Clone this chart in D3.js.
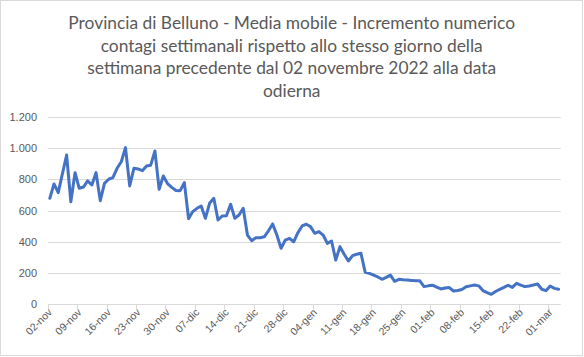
<!DOCTYPE html>
<html><head><meta charset="utf-8">
<script src="https://cdn.jsdelivr.net/npm/d3@7"></script>
<style>html,body{margin:0;padding:0;background:#fff}svg{display:block}</style>
</head><body>
<script>
const titleLines = [
  "Provincia di Belluno - Media mobile - Incremento numerico",
  "contagi settimanali rispetto allo stesso giorno della",
  "settimana precedente dal 02 novembre 2022 alla data",
  "odierna"
];
const startDate = new Date(2022, 10, 2);
const endDate = new Date(2023, 2, 4);
const tickLabels = ["02-nov","09-nov","16-nov","23-nov","30-nov","07-dic","14-dic","21-dic","28-dic","04-gen","11-gen","18-gen","25-gen","01-feb","08-feb","15-feb","22-feb","01-mar"];
const yTicks = [0,200,400,600,800,1000,1200];
const values = [
 678,770,714,835,955,656,842,742,750,789,
 763,842,663,774,800,810,870,912,1002,757,
 870,866,855,885,890,981,736,821,772,748,
 728,727,778,548,593,614,629,550,646,678,
 539,565,567,640,550,571,614,443,407,426,
 426,432,470,514,443,358,411,422,400,458,
 501,512,497,454,465,443,390,405,283,369,
 320,277,311,320,326,205,198,187,175,160,
 172,187,147,160,157,155,153,150,150,113,
 118,122,110,98,104,107,85,88,95,112,
 118,123,118,88,75,64,82,95,108,122,
 108,134,123,113,117,123,130,96,87,117,
 102,96
];

const W = 584, H = 357;
const svg = d3.select("body").append("svg").attr("width", W).attr("height", H);
svg.append("rect").attr("x",0.5).attr("y",0.5).attr("width",W-2).attr("height",H-2)
  .attr("fill","#fff").attr("stroke","#d9d9d9");

const days = d3.timeDay.range(startDate, endDate);
const fmtDay = d => d3.timeFormat("%d")(d) + "-" + ["gen","feb","mar","apr","mag","giu","lug","ago","set","ott","nov","dic"][d.getMonth()];
const cats = days.map(fmtDay);

const x = d3.scaleBand().domain(cats).range([47.7, 560.7]).padding(0);
const y = d3.scaleLinear().domain([0,1200]).range([304.3, 116.7]);

// title
const title = svg.append("g").attr("fill","#595959").attr("font-family","Lato, 'Open Sans', sans-serif");
const tt = title.selectAll("text").data(titleLines).join("text")
  .attr("x", 291.7).attr("y", (d,i) => 29 + i*22.5)
  .attr("text-anchor","middle").attr("font-size", 16).text(d => d);
const w0 = tt.node().getComputedTextLength();
tt.attr("font-size", 16 * 447 / w0);

// grid
const loc = d3.formatLocale({decimal:",", thousands:".", grouping:[3], currency:["€",""]});
const fmt = loc.format(",");
svg.append("g").selectAll("line").data(yTicks.filter(d=>d>0)).join("line")
  .attr("x1", 47.7).attr("x2", 560.7).attr("y1", d=>Math.round(y(d))+0.5).attr("y2", d=>Math.round(y(d))+0.5)
  .attr("stroke","#d9d9d9").attr("stroke-width",1);

// y axis labels
svg.append("g").selectAll("text").data(yTicks).join("text")
  .attr("x", 37).attr("y", d=>y(d)+4).attr("text-anchor","end")
  .attr("font-family","'Liberation Sans', Arial, sans-serif").attr("font-size",11).attr("fill","#595959")
  .text(d=>fmt(d));

// x axis
const xa = svg.append("g");
xa.append("line").attr("x1",47.7).attr("x2",560.7).attr("y1",Math.round(y(0))+0.5).attr("y2",Math.round(y(0))+0.5)
  .attr("stroke","#d9d9d9");
const tickCats = tickLabels;
xa.selectAll("line.t").data(tickCats).join("line").attr("class","t")
  .attr("x1", d=>Math.round(x(d))+0.5).attr("x2", d=>Math.round(x(d))+0.5)
  .attr("y1", Math.round(y(0))+0.5).attr("y2", Math.round(y(0))+5.5).attr("stroke","#d9d9d9");
xa.selectAll("text").data(tickCats).join("text")
  .attr("transform", d=>`translate(${x(d)+x.bandwidth()/2+3},${313}) rotate(-45)`)
  .attr("text-anchor","end")
  .attr("font-family","'Liberation Sans', Arial, sans-serif").attr("font-size",10.5).attr("fill","#595959")
  .text(d=>d);

// line
const line = d3.line().x((d,i)=>x(cats[i])+x.bandwidth()/2).y(d=>y(d)).curve(d3.curveLinear);
svg.append("path").datum(values).attr("d", line).attr("fill","none")
  .attr("stroke","#4472C4").attr("stroke-width",3).attr("stroke-linejoin","round").attr("stroke-linecap","round");
</script>
</body></html>
